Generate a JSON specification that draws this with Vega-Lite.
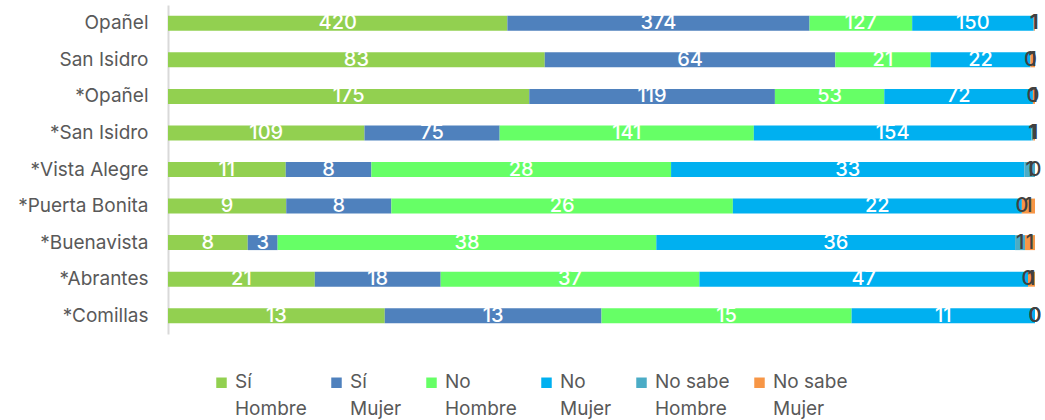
{
  "$schema": "https://vega.github.io/schema/vega-lite/v6.json",
  "width": 867,
  "height": 329,
  "autosize": {"type": "none"},
  "padding": {"left": 168, "top": 5, "right": 10, "bottom": 86},
  "config": {
    "view": {"stroke": null},
    "font": "Inter",
    "text": {"font": "Inter"}
  },
  "data": {
    "values": [
      {"c": "Opañel", "s": "Sí|Hombre", "o": 1, "v": 420},
      {"c": "Opañel", "s": "Sí|Mujer", "o": 2, "v": 374},
      {"c": "Opañel", "s": "No|Hombre", "o": 3, "v": 127},
      {"c": "Opañel", "s": "No|Mujer", "o": 4, "v": 150},
      {"c": "Opañel", "s": "No sabe|Hombre", "o": 5, "v": 1},
      {"c": "Opañel", "s": "No sabe|Mujer", "o": 6, "v": 1},
      {"c": "San Isidro", "s": "Sí|Hombre", "o": 1, "v": 83},
      {"c": "San Isidro", "s": "Sí|Mujer", "o": 2, "v": 64},
      {"c": "San Isidro", "s": "No|Hombre", "o": 3, "v": 21},
      {"c": "San Isidro", "s": "No|Mujer", "o": 4, "v": 22},
      {"c": "San Isidro", "s": "No sabe|Hombre", "o": 5, "v": 0},
      {"c": "San Isidro", "s": "No sabe|Mujer", "o": 6, "v": 1},
      {"c": "*Opañel", "s": "Sí|Hombre", "o": 1, "v": 175},
      {"c": "*Opañel", "s": "Sí|Mujer", "o": 2, "v": 119},
      {"c": "*Opañel", "s": "No|Hombre", "o": 3, "v": 53},
      {"c": "*Opañel", "s": "No|Mujer", "o": 4, "v": 72},
      {"c": "*Opañel", "s": "No sabe|Hombre", "o": 5, "v": 0},
      {"c": "*Opañel", "s": "No sabe|Mujer", "o": 6, "v": 1},
      {"c": "*San Isidro", "s": "Sí|Hombre", "o": 1, "v": 109},
      {"c": "*San Isidro", "s": "Sí|Mujer", "o": 2, "v": 75},
      {"c": "*San Isidro", "s": "No|Hombre", "o": 3, "v": 141},
      {"c": "*San Isidro", "s": "No|Mujer", "o": 4, "v": 154},
      {"c": "*San Isidro", "s": "No sabe|Hombre", "o": 5, "v": 1},
      {"c": "*San Isidro", "s": "No sabe|Mujer", "o": 6, "v": 1},
      {"c": "*Vista Alegre", "s": "Sí|Hombre", "o": 1, "v": 11},
      {"c": "*Vista Alegre", "s": "Sí|Mujer", "o": 2, "v": 8},
      {"c": "*Vista Alegre", "s": "No|Hombre", "o": 3, "v": 28},
      {"c": "*Vista Alegre", "s": "No|Mujer", "o": 4, "v": 33},
      {"c": "*Vista Alegre", "s": "No sabe|Hombre", "o": 5, "v": 1},
      {"c": "*Vista Alegre", "s": "No sabe|Mujer", "o": 6, "v": 0},
      {"c": "*Puerta Bonita", "s": "Sí|Hombre", "o": 1, "v": 9},
      {"c": "*Puerta Bonita", "s": "Sí|Mujer", "o": 2, "v": 8},
      {"c": "*Puerta Bonita", "s": "No|Hombre", "o": 3, "v": 26},
      {"c": "*Puerta Bonita", "s": "No|Mujer", "o": 4, "v": 22},
      {"c": "*Puerta Bonita", "s": "No sabe|Hombre", "o": 5, "v": 0},
      {"c": "*Puerta Bonita", "s": "No sabe|Mujer", "o": 6, "v": 1},
      {"c": "*Buenavista", "s": "Sí|Hombre", "o": 1, "v": 8},
      {"c": "*Buenavista", "s": "Sí|Mujer", "o": 2, "v": 3},
      {"c": "*Buenavista", "s": "No|Hombre", "o": 3, "v": 38},
      {"c": "*Buenavista", "s": "No|Mujer", "o": 4, "v": 36},
      {"c": "*Buenavista", "s": "No sabe|Hombre", "o": 5, "v": 1},
      {"c": "*Buenavista", "s": "No sabe|Mujer", "o": 6, "v": 1},
      {"c": "*Abrantes", "s": "Sí|Hombre", "o": 1, "v": 21},
      {"c": "*Abrantes", "s": "Sí|Mujer", "o": 2, "v": 18},
      {"c": "*Abrantes", "s": "No|Hombre", "o": 3, "v": 37},
      {"c": "*Abrantes", "s": "No|Mujer", "o": 4, "v": 47},
      {"c": "*Abrantes", "s": "No sabe|Hombre", "o": 5, "v": 0},
      {"c": "*Abrantes", "s": "No sabe|Mujer", "o": 6, "v": 1},
      {"c": "*Comillas", "s": "Sí|Hombre", "o": 1, "v": 13},
      {"c": "*Comillas", "s": "Sí|Mujer", "o": 2, "v": 13},
      {"c": "*Comillas", "s": "No|Hombre", "o": 3, "v": 15},
      {"c": "*Comillas", "s": "No|Mujer", "o": 4, "v": 11},
      {"c": "*Comillas", "s": "No sabe|Hombre", "o": 5, "v": 0},
      {"c": "*Comillas", "s": "No sabe|Mujer", "o": 6, "v": 0}
    ]
  },
  "encoding": {
    "y": {
      "field": "c",
      "type": "nominal",
      "sort": ["Opañel", "San Isidro", "*Opañel", "*San Isidro", "*Vista Alegre", "*Puerta Bonita", "*Buenavista", "*Abrantes", "*Comillas"],
      "scale": {"paddingInner": 0.59, "paddingOuter": 0.295},
      "axis": {
        "title": null,
        "ticks": false,
        "labelPadding": 20,
        "labelFontSize": 19,
        "labelColor": "#595959",
        "labelFont": "Inter",
        "domainColor": "#d9d9d9",
        "domainWidth": 2
      }
    },
    "x": {
      "field": "v",
      "type": "quantitative",
      "stack": "normalize",
      "axis": null
    },
    "order": {"field": "o", "type": "quantitative"}
  },
  "layer": [
    {
      "mark": {"type": "bar"},
      "encoding": {
        "color": {
          "field": "s",
          "type": "nominal",
          "sort": ["Sí|Hombre", "Sí|Mujer", "No|Hombre", "No|Mujer", "No sabe|Hombre", "No sabe|Mujer"],
          "scale": {
            "domain": ["Sí|Hombre", "Sí|Mujer", "No|Hombre", "No|Mujer", "No sabe|Hombre", "No sabe|Mujer"],
            "range": ["#92d050", "#4f81bd", "#66ff66", "#00b0f0", "#4bacc6", "#f79646"]
          },
          "legend": {
            "title": null,
            "orient": "none",
            "direction": "horizontal",
            "columns": 6,
            "legendX": 44,
            "legendY": 368,
            "symbolType": "square",
            "symbolSize": 110,
            "symbolStrokeWidth": 0,
            "labelFontSize": 19,
            "labelColor": "#595959",
            "labelFont": "Inter",
            "labelOffset": 4,
            "labelBaseline": "top",
            "labelLimit": 200,
            "columnPadding": 20,
            "labelExpr": "split(datum.label, '|')",
            "encode": {
              "labels": {"update": {"lineHeight": {"value": 27}, "dy": {"value": -10}}}
            }
          }
        }
      }
    },
    {
      "mark": {"type": "text", "fontSize": 20, "fontWeight": 500, "font": "Inter"},
      "encoding": {
        "x": {
          "field": "v",
          "type": "quantitative",
          "stack": "normalize",
          "bandPosition": 0.5
        },
        "detail": {"field": "s"},
        "text": {"field": "v", "type": "quantitative"},
        "color": {
          "condition": {"test": "datum.o >= 5", "value": "#404040"},
          "value": "#ffffff"
        }
      }
    }
  ]
}
